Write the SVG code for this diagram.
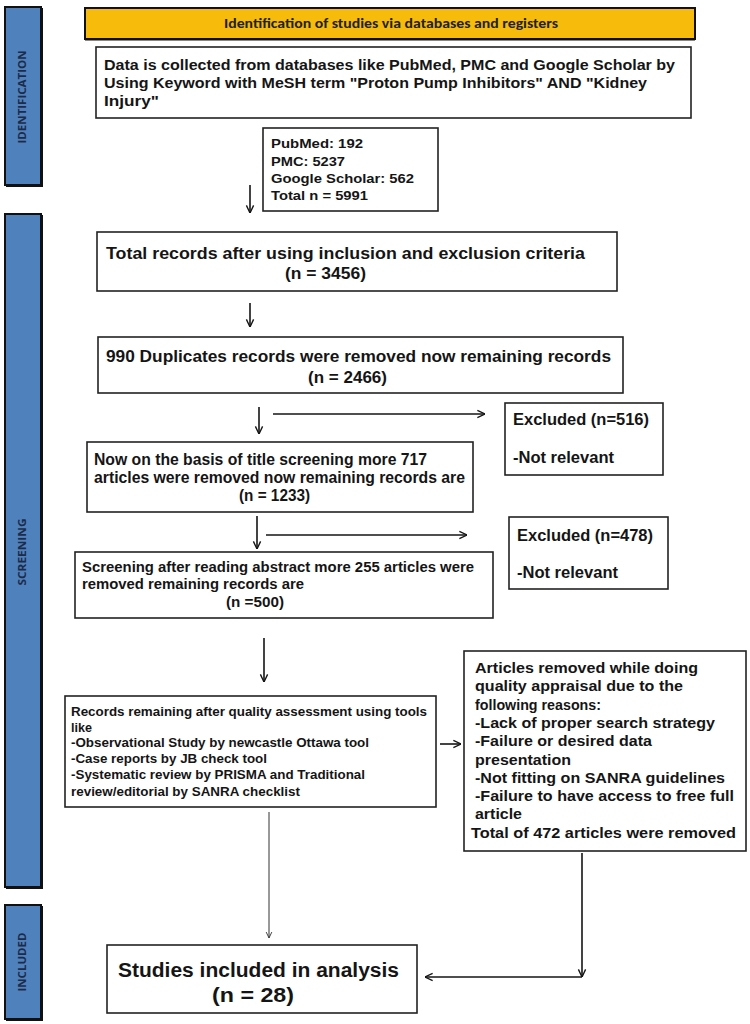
<svg xmlns="http://www.w3.org/2000/svg" width="750" height="1024" viewBox="0 0 750 1024">
<style>
.bg{fill:#ffffff}
.bar{fill:#4F81BD;stroke:#111;stroke-width:2}
.barshadow{fill:#111}
.bartxt{font-family:"Open Sans","DejaVu Sans",sans-serif;font-weight:700;font-size:10.5px;fill:#1c2b48;text-anchor:middle}
.box{fill:#fff;stroke:#222;stroke-width:1.6}
.banner{fill:#F7BB0C;stroke:#111;stroke-width:2}
.t{font-family:"Liberation Sans",Arial,sans-serif;font-weight:700;fill:#151515}
.c{text-anchor:middle}
.ln{fill:none;stroke:#151515;stroke-width:1.6}
.thin{fill:none;stroke:#333;stroke-width:1}
</style>
<defs>
<marker id="arr" viewBox="0 0 10 10" refX="9.5" refY="5" markerWidth="9" markerHeight="10" markerUnits="userSpaceOnUse" orient="auto">
<path d="M1,1 L9.5,5 L1,9" fill="none" stroke="#151515" stroke-width="1.5"/>
</marker>
<marker id="arrs" viewBox="0 0 10 10" refX="9.5" refY="5" markerWidth="7" markerHeight="8" markerUnits="userSpaceOnUse" orient="auto">
<path d="M1,1 L9.5,5 L1,9" fill="none" stroke="#333" stroke-width="1.3"/>
</marker>
</defs>
<rect class="bg" x="0" y="0" width="750" height="1024"/>

<g id="phase-identification">
<rect class="barshadow" x="6" y="8" width="37" height="179"/>
<rect class="bar" x="5" y="7" width="36" height="178"/>
<text class="bartxt" transform="translate(26,97) rotate(-90)" textLength="93" lengthAdjust="spacingAndGlyphs">IDENTIFICATION</text>
</g>
<g id="phase-screening">
<rect class="barshadow" x="6" y="215" width="37" height="674"/>
<rect class="bar" x="5" y="214" width="36" height="673"/>
<text class="bartxt" transform="translate(26,552) rotate(-90)" textLength="67" lengthAdjust="spacingAndGlyphs">SCREENING</text>
</g>
<g id="phase-included">
<rect class="barshadow" x="6" y="906" width="37" height="115"/>
<rect class="bar" x="5" y="905" width="36" height="114"/>
<text class="bartxt" transform="translate(26,962) rotate(-90)" textLength="59" lengthAdjust="spacingAndGlyphs">INCLUDED</text>
</g>

<g id="banner">
<rect class="banner" x="85" y="8" width="610" height="31"/>
<line x1="85" y1="39.5" x2="695" y2="39.5" stroke="#111" stroke-width="2"/>
<text x="391" y="28" font-family="Carlito,'Liberation Sans',Arial,sans-serif" font-weight="700" font-size="13" fill="#222" text-anchor="middle" textLength="334" lengthAdjust="spacingAndGlyphs">Identification of studies via databases and registers</text>
</g>

<g id="search">
<rect class="box" x="96" y="47" width="595" height="71"/>
<text class="t" font-size="14.5"><tspan x="104" y="70" textLength="571" lengthAdjust="spacingAndGlyphs">Data is collected from databases like PubMed, PMC and Google Scholar by</tspan><tspan x="104" y="88" textLength="543" lengthAdjust="spacingAndGlyphs">Using Keyword with MeSH term "Proton Pump Inhibitors" AND "Kidney</tspan><tspan x="104" y="106" textLength="55" lengthAdjust="spacingAndGlyphs">Injury"</tspan></text>
</g>

<g id="sources">
<rect class="box" x="263" y="128" width="175" height="83"/>
<text class="t" font-size="13.5"><tspan x="271" y="148" textLength="92" lengthAdjust="spacingAndGlyphs">PubMed: 192</tspan><tspan x="271" y="166" textLength="74" lengthAdjust="spacingAndGlyphs">PMC: 5237</tspan><tspan x="271" y="183" textLength="143" lengthAdjust="spacingAndGlyphs">Google Scholar: 562</tspan><tspan x="271" y="200" textLength="97" lengthAdjust="spacingAndGlyphs">Total n = 5991</tspan></text>
</g>

<g id="criteria">
<rect class="box" x="97" y="232" width="520" height="59"/>
<text class="t" font-size="17"><tspan x="106" y="259" textLength="479" lengthAdjust="spacingAndGlyphs">Total records after using inclusion and exclusion criteria</tspan><tspan x="325.5" y="279" class="c" textLength="81" lengthAdjust="spacingAndGlyphs">(n = 3456)</tspan></text>
</g>

<g id="duplicates">
<rect class="box" x="98" y="337" width="525" height="56"/>
<text class="t" font-size="17"><tspan x="106" y="362" textLength="505" lengthAdjust="spacingAndGlyphs">990 Duplicates records were removed now remaining records</tspan><tspan x="347.5" y="383" class="c" textLength="79" lengthAdjust="spacingAndGlyphs">(n = 2466)</tspan></text>
</g>

<g id="excluded1">
<rect class="box" x="505" y="403" width="158" height="72"/>
<text class="t" font-size="16"><tspan x="513" y="425" textLength="136" lengthAdjust="spacingAndGlyphs">Excluded (n=516)</tspan><tspan x="513" y="463" textLength="101" lengthAdjust="spacingAndGlyphs">-Not relevant</tspan></text>
</g>

<g id="title-screening">
<rect class="box" x="87" y="442" width="386" height="70"/>
<text class="t" font-size="16"><tspan x="94" y="465" textLength="333" lengthAdjust="spacingAndGlyphs">Now on the basis of title screening more 717</tspan><tspan x="94" y="483" textLength="371" lengthAdjust="spacingAndGlyphs">articles were removed now remaining records are</tspan><tspan x="274.5" y="501" class="c" textLength="71" lengthAdjust="spacingAndGlyphs">(n = 1233)</tspan></text>
</g>

<g id="excluded2">
<rect class="box" x="509" y="517" width="159" height="72"/>
<text class="t" font-size="16"><tspan x="517" y="541" textLength="136" lengthAdjust="spacingAndGlyphs">Excluded (n=478)</tspan><tspan x="517" y="578" textLength="101" lengthAdjust="spacingAndGlyphs">-Not relevant</tspan></text>
</g>

<g id="abstract-screening">
<rect class="box" x="75" y="552" width="418" height="66"/>
<text class="t" font-size="14.5"><tspan x="82" y="572" textLength="392" lengthAdjust="spacingAndGlyphs">Screening after reading abstract more 255 articles were</tspan><tspan x="82" y="589" textLength="222" lengthAdjust="spacingAndGlyphs">removed remaining records are</tspan><tspan x="255" y="607" class="c" textLength="58" lengthAdjust="spacingAndGlyphs">(n =500)</tspan></text>
</g>

<g id="quality">
<rect class="box" x="65" y="696" width="371" height="111"/>
<text class="t" font-size="12.5"><tspan x="71" y="716" textLength="356" lengthAdjust="spacingAndGlyphs">Records remaining after quality assessment using tools</tspan><tspan x="71" y="732" textLength="21" lengthAdjust="spacingAndGlyphs">like</tspan><tspan x="71" y="747" textLength="298" lengthAdjust="spacingAndGlyphs">-Observational Study by newcastle Ottawa tool</tspan><tspan x="71" y="763" textLength="196" lengthAdjust="spacingAndGlyphs">-Case reports by JB check tool</tspan><tspan x="71" y="779" textLength="294" lengthAdjust="spacingAndGlyphs">-Systematic review by PRISMA and Traditional</tspan><tspan x="71" y="796" textLength="229" lengthAdjust="spacingAndGlyphs">review/editorial by SANRA checklist</tspan></text>
</g>

<g id="removed">
<rect class="box" x="464" y="651" width="282" height="200"/>
<text class="t" font-size="15.5"><tspan x="475" y="673" textLength="223" lengthAdjust="spacingAndGlyphs">Articles removed while doing</tspan><tspan x="475" y="691.3" textLength="208" lengthAdjust="spacingAndGlyphs">quality appraisal due to the</tspan><tspan x="475" y="709.6" textLength="126" lengthAdjust="spacingAndGlyphs">following reasons:</tspan><tspan x="475" y="727.9" textLength="240" lengthAdjust="spacingAndGlyphs">-Lack of proper search strategy</tspan><tspan x="475" y="746.2" textLength="177" lengthAdjust="spacingAndGlyphs">-Failure or desired data</tspan><tspan x="475" y="764.5" textLength="96" lengthAdjust="spacingAndGlyphs">presentation</tspan><tspan x="475" y="782.8" textLength="250" lengthAdjust="spacingAndGlyphs">-Not fitting on SANRA guidelines</tspan><tspan x="475" y="801.1" textLength="259" lengthAdjust="spacingAndGlyphs">-Failure to have access to free full</tspan><tspan x="475" y="819.4" textLength="47" lengthAdjust="spacingAndGlyphs">article</tspan><tspan x="471" y="837.7" textLength="265" lengthAdjust="spacingAndGlyphs">Total of 472 articles were removed</tspan></text>
</g>

<g id="included">
<rect class="box" x="107" y="945" width="310" height="68"/>
<text class="t" font-size="19.5"><tspan x="258.5" y="977" class="c" textLength="281" lengthAdjust="spacingAndGlyphs">Studies included in analysis</tspan><tspan x="253" y="1002" class="c" textLength="82" lengthAdjust="spacingAndGlyphs">(n = 28)</tspan></text>
</g>

<g id="connectors">
<line class="ln" x1="250" y1="185" x2="250" y2="213" marker-end="url(#arr)"/>
<line class="ln" x1="250" y1="303" x2="250" y2="327" marker-end="url(#arr)"/>
<line class="ln" x1="259" y1="407" x2="259" y2="434" marker-end="url(#arr)"/>
<line class="ln" x1="273" y1="414" x2="485" y2="414" marker-end="url(#arr)"/>
<line class="ln" x1="257" y1="516" x2="257" y2="549" marker-end="url(#arr)"/>
<line class="ln" x1="266" y1="535" x2="467" y2="535" marker-end="url(#arr)"/>
<line class="ln" x1="264" y1="638" x2="264" y2="682" marker-end="url(#arr)"/>
<line class="ln" x1="440" y1="744" x2="461" y2="744" marker-end="url(#arr)"/>
<line class="thin" x1="269" y1="812" x2="269" y2="938" marker-end="url(#arrs)"/>
<line class="ln" x1="582" y1="853" x2="582" y2="977" marker-end="url(#arr)"/>
<line class="ln" x1="582" y1="977" x2="425" y2="977" marker-end="url(#arr)"/>
</g>
</svg>
